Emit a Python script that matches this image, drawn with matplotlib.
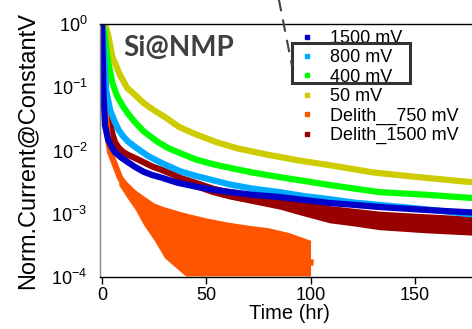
import matplotlib
matplotlib.use('Agg')
import matplotlib.pyplot as plt
from matplotlib.lines import Line2D
from matplotlib.patches import Rectangle

plt.rcParams['font.family'] = ['Liberation Sans', 'DejaVu Sans']
plt.rcParams['mathtext.fontset'] = 'custom'
plt.rcParams['mathtext.rm'] = 'Liberation Sans'

# ---- data (time in hr, normalised current) ----
t_1500 = [0, 0.3, 0.6, 1.4, 2.9, 4.5, 6, 9, 12.5, 15.8, 20, 24, 28.8, 36, 44.6, 53, 61.4, 72,
          85, 97, 109, 121, 133, 155, 177, 200]
v_1500 = [1.0, 0.3, 0.09, 0.025, 0.0147, 0.0115, 0.0095, 0.0078, 0.0065, 0.0055, 0.0046, 0.0041,
          0.0037, 0.0031, 0.0027, 0.0024, 0.0022, 0.002, 0.00184, 0.00165, 0.00148, 0.00138,
          0.00128, 0.00115, 0.00105, 0.00098]

t_800 = [0, 0.5, 1.9, 4, 6.2, 8, 10, 12.5, 15.8, 22, 28.8, 37.4, 44.6, 53, 61.4, 72, 85, 97,
         109, 121, 133, 155, 177, 200]
v_800 = [1.0, 0.6, 0.09, 0.042, 0.028, 0.021, 0.017, 0.0138, 0.0114, 0.0082, 0.0063, 0.0047,
         0.004, 0.0034, 0.0029, 0.0025, 0.0022, 0.0019, 0.0017, 0.0015, 0.00138, 0.00118,
         0.00098, 0.0009]

t_400 = [0, 1, 2.4, 4.8, 7, 9.6, 12.5, 15.8, 20, 26.8, 32, 37.4, 45, 53, 61.4, 72, 85, 97, 109,
         121, 133, 155, 177, 200]
v_400 = [1.0, 0.8, 0.32, 0.121, 0.075, 0.0525, 0.038, 0.028, 0.02, 0.0136, 0.0108, 0.0091,
         0.0072, 0.0061, 0.0053, 0.0045, 0.0038, 0.0033, 0.00285, 0.0025, 0.0022, 0.002,
         0.00178, 0.0016]

t_50 = [0, 1.4, 2.9, 5, 8.6, 12, 15.8, 20, 25, 30, 37, 45, 55, 65, 80, 95, 110, 130, 155, 180,
        200]
v_50 = [1.0, 1.0, 0.67, 0.3, 0.156, 0.098, 0.0755, 0.056, 0.043, 0.034, 0.0235, 0.018, 0.0135,
        0.0108, 0.0085, 0.0069, 0.0058, 0.0045, 0.0037, 0.0031, 0.0028]

t_d750 = [0, 0.3, 1, 2, 2.9, 3.8, 5.3, 8.6, 12, 15.8, 20.6, 27.8, 37.4, 51.8, 71, 95, 100]
v_d750 = [1.0, 0.5, 0.12, 0.03, 0.0147, 0.0095, 0.0071, 0.0037, 0.0024, 0.00154, 0.00095,
          0.00055, 0.00039, 0.00027, 0.0002, 0.000174, 0.00017]
# spread of the noisy Delith 750 mV points
t_d750_env = [8, 12, 16, 20, 25, 30, 40, 50, 60, 70, 80, 90, 100]
hi_d750 = [0.0046, 0.00318, 0.00237, 0.00191, 0.00147, 0.00128, 0.00103, 0.00086, 0.00074,
           0.00066, 0.0006, 0.0005, 0.00038]
lo_d750 = [0.00285, 0.00178, 0.00115, 0.00066, 0.00038, 0.0002, 0.000104, 0.000104, 0.000104,
           0.000104, 0.000104, 0.000104, 0.000104]

t_d1500 = [0, 0.3, 1, 2.4, 3.8, 5, 6.2, 8, 10, 12.5, 15.8, 20, 24, 28.8, 33, 37.4, 44.6, 53,
           61.4, 72, 85.3, 97, 109, 121, 133, 155, 177, 200]
v_d1500 = [1.0, 0.5, 0.19, 0.056, 0.028, 0.018, 0.0135, 0.011, 0.0095, 0.0085, 0.0076, 0.0065,
           0.0056, 0.0049, 0.0043, 0.0037, 0.0031, 0.0025, 0.0021, 0.0018, 0.0015, 0.0012,
           0.00098, 0.00088, 0.00078, 0.00072, 0.00066, 0.00062]
t_d1500_env = [40, 53, 61.4, 72, 85.3, 97, 109, 121, 133, 155, 177, 200]
hi_d1500 = [0.0036, 0.0028, 0.0025, 0.0022, 0.0019, 0.0016, 0.00135, 0.00122, 0.0011, 0.001,
            0.00092, 0.00088]
lo_d1500 = [0.0028, 0.002, 0.0017, 0.00145, 0.00118, 0.00092, 0.00072, 0.00064, 0.00056,
            0.0005, 0.00046, 0.00044]

labels = ['1500 mV', '800 mV', '400 mV', '50 mV', 'Delith__750 mV', 'Delith_1500 mV']
colors = ['#0000c8', '#00aaff', '#00ff00', '#cccc00', '#ff5500', '#990000']

fig = plt.figure(figsize=(4.72, 3.29), dpi=100)
ax = fig.add_axes([100 / 472, 52 / 329, 419 / 472, 253 / 329])

lw = 4.5
# drawn back to front
ax.fill_between(t_d1500_env, lo_d1500, hi_d1500, color=colors[5], lw=0)
ax.plot(t_d1500, v_d1500, color=colors[5], lw=lw)
ax.fill_between(t_d750_env, lo_d750, hi_d750, color=colors[4], lw=0)
ax.plot(t_d750, v_d750, color=colors[4], lw=lw)
ax.plot(t_50, v_50, color=colors[3], lw=lw)
ax.plot(t_400, v_400, color=colors[2], lw=lw)
ax.plot(t_800, v_800, color=colors[1], lw=lw)
ax.plot(t_1500, v_1500, color=colors[0], lw=lw)

ax.set_yscale('log')
ax.set_ylim(1e-4, 1)
ax.set_xlim(-1, 200)
ax.set_yticks([1e-4, 1e-3, 1e-2, 1e-1, 1])
ax.set_yticklabels([r'$\mathregular{10^{-4}}$', r'$\mathregular{10^{-3}}$', r'$\mathregular{10^{-2}}$',
                    r'$\mathregular{10^{-1}}$', r'$\mathregular{10^{0}}$'])
ax.minorticks_off()
ax.set_xticks([0, 50, 100, 150])
ax.tick_params(axis='y', length=0, pad=9, labelsize=13)
ax.tick_params(axis='x', direction='out', length=5, width=1, pad=2, labelsize=13)

ax.spines['left'].set_color('#888888')
ax.spines['right'].set_visible(False)
for s in ['left', 'bottom', 'top']:
    ax.spines[s].set_linewidth(1)

ax.set_xlabel('Time (hr)', fontsize=14.5, labelpad=1)
ax.xaxis.set_label_coords(0.451, -0.105)
ax.set_ylabel('Norm.Current@ConstantV', fontsize=17, labelpad=9)

handles = [Line2D([], [], marker='s', ls='none', ms=3.5, color=c) for c in colors]
ax.legend(handles, labels, loc='upper left', bbox_to_anchor=(0.4726, 0.976), frameon=False,
          fontsize=13, handlelength=1.0, handletextpad=0.78, labelspacing=0.13,
          borderpad=0, borderaxespad=0)

fig.text(123 / 472, (329 - 56) / 329, 'Si@NMP', fontsize=20, fontweight='bold',
         color='#404040', family=['Lato', 'DejaVu Sans'], va='baseline')

# highlight box and dashed pointer
fig.add_artist(Rectangle((292 / 472, (329 - 83) / 329), 118 / 472, 40 / 329,
                         transform=fig.transFigure, fill=False, ec='#333333', lw=2.2, zorder=10))
fig.add_artist(Line2D([277 / 472, 292 / 472], [(329 + 10) / 329, (329 - 66) / 329],
                      transform=fig.transFigure, color='#444444', lw=1.5, dashes=(6, 4), zorder=10))

fig.savefig('out.png', dpi=100)
